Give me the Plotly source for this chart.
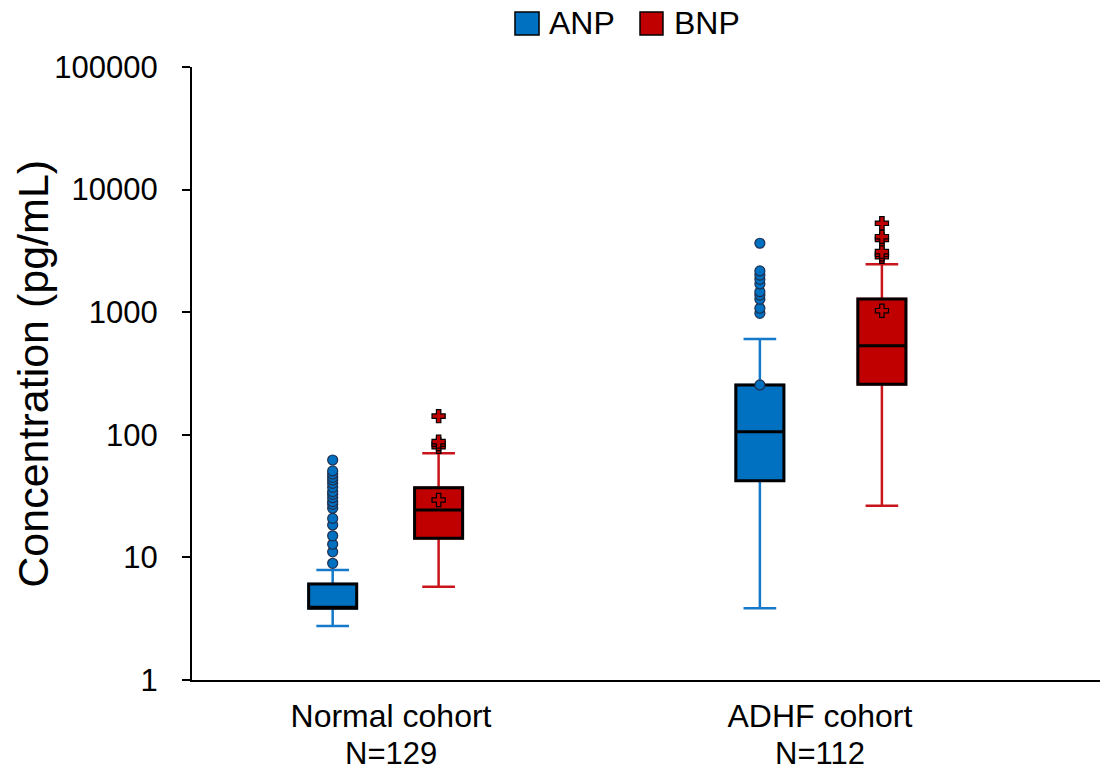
import plotly.graph_objects as go

# ---------------- data ----------------
cohorts = ["Normal cohort", "ADHF cohort"]
cohort_n = ["N=129", "N=112"]
series = ["ANP", "BNP"]

anp_q1 = [3.85, 42.2]
anp_median = [3.9, 106]
anp_q3 = [6.07, 255]
anp_lower = [2.76, 3.85]
anp_upper = [7.9, 604]
anp_mean = [8.95, 255]

bnp_q1 = [14.3, 258]
bnp_median = [24.4, 533]
bnp_q3 = [37.0, 1282]
bnp_lower = [5.77, 26.4]
bnp_upper = [70.7, 2460]
bnp_mean = [29.4, 1029]

anp_outliers_normal = [11.1, 12.8, 15.0, 18.4, 20.8, 25.2, 27.1, 28.5, 30.7, 32.7,
                       34.4, 37.3, 40.2, 42.8, 45.0, 47.9, 50.7, 62.3]
anp_outliers_adhf = [980, 1077, 1275, 1380, 1470, 1700, 1855, 2010, 2170, 3650]
bnp_outliers_normal = [80, 84, 88, 142]
bnp_outliers_adhf = [2836, 2966, 3117, 3930, 4130, 5310]

y_tickvals = [1, 10, 100, 1000, 10000, 100000]
y_ticktext = ["1", "10", "100", "1000", "10000", "100000"]

# ---------------- layout constants ----------------
FONT = "Liberation Sans, Arial, sans-serif"
ANP_FILL = "#0070C0"
BNP_FILL = "#C00000"
ANP_WHISK = "#1479C9"
BNP_WHISK = "#C8141A"
cohort_pos = [0, 1]
anp_offset = [-0.136, -0.140]
bnp_offset = [0.111, 0.1445]
x_anp = [c + o for c, o in zip(cohort_pos, anp_offset)]
x_bnp = [c + o for c, o in zip(cohort_pos, bnp_offset)]
BOX_W = 0.112

fig = go.Figure()

def add_series(xpos, q1, med, q3, lo, hi, fill, whisk):
    # whiskers (coloured)
    fig.add_trace(go.Box(
        x=xpos, q1=q1, median=med, q3=q3, lowerfence=lo, upperfence=hi,
        width=BOX_W, whiskerwidth=0.68, boxpoints=False,
        line=dict(color=whisk, width=2.5), fillcolor="rgba(0,0,0,0)",
        showlegend=False, hoverinfo="skip"))
    # box body (black outline)
    fig.add_trace(go.Box(
        x=xpos, q1=q1, median=med, q3=q3, lowerfence=q1, upperfence=q3,
        width=BOX_W, whiskerwidth=0, boxpoints=False,
        line=dict(color="black", width=3), fillcolor=fill,
        showlegend=False))

add_series(x_anp, anp_q1, anp_median, anp_q3, anp_lower, anp_upper, ANP_FILL, ANP_WHISK)
add_series(x_bnp, bnp_q1, bnp_median, bnp_q3, bnp_lower, bnp_upper, BNP_FILL, BNP_WHISK)

circle = dict(symbol="circle", size=10, color=ANP_FILL, line=dict(color="#1F2F4F", width=1.2))
plus = dict(symbol="cross", size=11, color=BNP_FILL, line=dict(color="black", width=1.2))

# means
fig.add_trace(go.Scatter(x=x_anp, y=anp_mean, mode="markers", marker=circle, showlegend=False))
fig.add_trace(go.Scatter(x=x_bnp, y=bnp_mean, mode="markers", marker=plus, showlegend=False))

# outliers
fig.add_trace(go.Scatter(
    x=[x_anp[0]] * len(anp_outliers_normal) + [x_anp[1]] * len(anp_outliers_adhf),
    y=anp_outliers_normal + anp_outliers_adhf, mode="markers", marker=circle, showlegend=False))
fig.add_trace(go.Scatter(
    x=[x_bnp[0]] * len(bnp_outliers_normal) + [x_bnp[1]] * len(bnp_outliers_adhf),
    y=bnp_outliers_normal + bnp_outliers_adhf, mode="markers", marker=plus, showlegend=False))

# manual legend (large squares like the original)
legend_items = [(series[0], ANP_FILL, 0.3557, 0.3822, 0.391),
                (series[1], BNP_FILL, 0.4934, 0.5187, 0.5286)]
for name, col, sx0, sx1, tx in legend_items:
    fig.add_shape(type="rect", xref="paper", yref="paper", x0=sx0, x1=sx1,
                  y0=1.0522, y1=1.0897, fillcolor=col, line=dict(color="black", width=1.5))
    fig.add_annotation(xref="paper", yref="paper", x=tx, y=1.071, text=name,
                       showarrow=False, xanchor="left", yanchor="middle",
                       font=dict(family=FONT, size=32, color="black"))

# second line of the category labels (sample sizes)
for pos, n in zip(cohort_pos, cohort_n):
    fig.add_annotation(xref="x", yref="paper", x=pos, y=-0.1195, text=n,
                       showarrow=False, xanchor="center", yanchor="middle",
                       font=dict(family=FONT, size=31, color="black"))

fig.add_annotation(xref="paper", yref="paper", x=-0.176, y=0.5,
                   text="Concentration (pg/mL)", textangle=-90, showarrow=False,
                   xanchor="center", yanchor="middle",
                   font=dict(family=FONT, size=43, color="black"))

fig.update_layout(
    width=1102, height=775,
    margin=dict(l=192, r=2, t=67, b=95),
    paper_bgcolor="white", plot_bgcolor="white",
    boxmode="overlay",
    font=dict(family=FONT, color="black"),
    showlegend=False,
    xaxis=dict(range=[-0.464, 1.653], tickvals=cohort_pos, ticktext=cohorts,
               showline=True, linecolor="black", linewidth=2, ticks="",
               showgrid=False, zeroline=False, ticklabelstandoff=7, automargin=False,
               tickfont=dict(family=FONT, size=32, color="black")),
    yaxis=dict(type="log", range=[0, 5], tickvals=y_tickvals, ticktext=y_ticktext,
               showline=True, linecolor="black", linewidth=2, ticks="outside",
               ticklen=8, tickwidth=2, tickcolor="black", showgrid=False, zeroline=False,
               ticklabelstandoff=18, automargin=False,
               tickfont=dict(family=FONT, size=31, color="black")),
)

fig.write_html("out.html", config={"displayModeBar": False},
               post_script="document.body.style.margin='0';document.body.style.overflow='hidden';")
